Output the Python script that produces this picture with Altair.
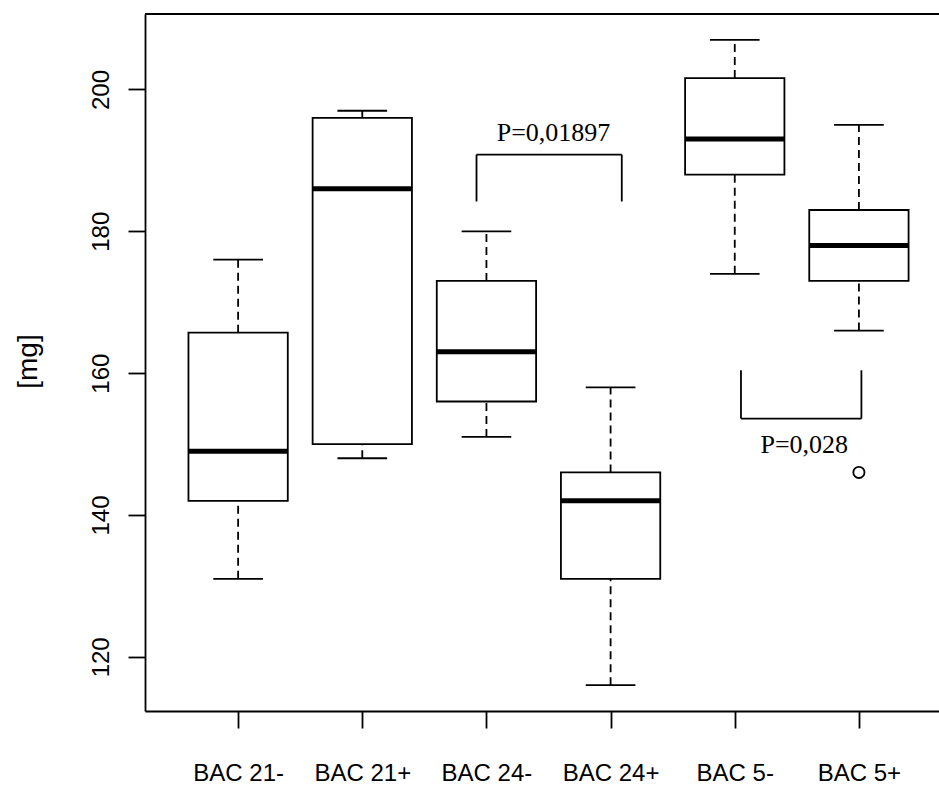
import altair as alt
import pandas as pd

# five-number summaries per group
groups = ["BAC 21-", "BAC 21+", "BAC 24-", "BAC 24+", "BAC 5-", "BAC 5+"]
whisker_low = [131, 148, 151, 116, 174, 166]
quart_low = [142, 150, 156, 131, 188, 173]
medians = [149, 186, 163, 142, 193, 178]
quart_high = [165.7, 196, 173, 146, 201.6, 183]
whisker_high = [176, 197, 180, 158, 207, 195]

# points beyond the whiskers
outlier_group = [6]
outlier_value = [146]

# significance brackets: x span, level of the bar, end of the legs
bracket_from = [2.92, 5.05]
bracket_to = [4.09, 6.02]
bracket_level = [190.8, 153.6]
bracket_leg = [184.2, 160.4]
p_labels = ["P=0,01897", "P=0,028"]
p_x = [3.54, 5.56]
p_y = [192.7, 148.75]

LW = 1.8
W, H = 794, 697

boxes = pd.DataFrame({
    "pos": list(range(1, len(groups) + 1)),
    "group": groups,
    "lo": whisker_low, "q1": quart_low, "med": medians,
    "q3": quart_high, "hi": whisker_high,
})
outliers = pd.DataFrame({"pos": outlier_group, "value": outlier_value})

seg_rows = []
for a, b, lvl, leg in zip(bracket_from, bracket_to, bracket_level, bracket_leg):
    seg_rows.append({"xa": a, "xb": a, "ya": leg, "yb": lvl})
    seg_rows.append({"xa": a, "xb": b, "ya": lvl, "yb": lvl})
    seg_rows.append({"xa": b, "xb": b, "ya": lvl, "yb": leg})
segments = pd.DataFrame(seg_rows)
ptext = pd.DataFrame({"label": p_labels, "x": p_x, "y": p_y})

xscale = alt.Scale(domain=[0.25, 6.645], nice=False, zero=False)
yscale = alt.Scale(domain=[112.36, 210.64], nice=False, zero=False)

label_expr = "[" + ",".join("'%s'" % g for g in groups) + "][datum.value - 1]"
xaxis = alt.Axis(values=list(range(1, len(groups) + 1)), labelExpr=label_expr,
                 title=None, grid=False, labelPadding=52, labelBaseline="alphabetic",
                 labelAlign="center")
yaxis = alt.Axis(values=[120, 140, 160, 180, 200], title="[mg]", grid=False,
                 labelAngle=270, labelAlign="center", labelBaseline="alphabetic",
                 labelPadding=20, titleX=-109, titleY=347, titleAngle=270,
                 titleAlign="center", titleBaseline="alphabetic",
                 titleFontSize=28)


def X(field):
    return alt.X(field, type="quantitative", scale=xscale, axis=xaxis)


def Y(field):
    return alt.Y(field, type="quantitative", scale=yscale, axis=yaxis)


base = alt.Chart(boxes).transform_calculate(
    left="datum.pos - 0.4", right="datum.pos + 0.4",
    capl="datum.pos - 0.2", capr="datum.pos + 0.2",
)

upper_whisker = base.mark_rule(strokeDash=[8, 5], stroke="black", strokeWidth=LW).encode(
    x=X("pos"), y=Y("q3"), y2="hi")
lower_whisker = base.mark_rule(strokeDash=[8, 5], stroke="black", strokeWidth=LW).encode(
    x=X("pos"), y=Y("lo"), y2="q1")
upper_cap = base.mark_rule(stroke="black", strokeWidth=LW).encode(
    x=X("capl"), x2="capr", y=Y("hi"))
lower_cap = base.mark_rule(stroke="black", strokeWidth=LW).encode(
    x=X("capl"), x2="capr", y=Y("lo"))
box = base.mark_rect(fill="white", stroke="black", strokeWidth=LW).encode(
    x=X("left"), x2="right", y=Y("q1"), y2="q3")
median = base.mark_rule(stroke="black", strokeWidth=5).encode(
    x=X("left"), x2="right", y=Y("med"))

outlier = alt.Chart(outliers).mark_point(
    shape="circle", filled=False, stroke="black", strokeWidth=1.8, size=125,
    opacity=1
).encode(x=X("pos"), y=Y("value"))

brackets = alt.Chart(segments).mark_rule(stroke="black", strokeWidth=LW).encode(
    x=X("xa"), x2="xb", y=Y("ya"), y2="yb")

pvals = alt.Chart(ptext).mark_text(
    font="Liberation Serif", fontSize=26, align="center", baseline="alphabetic",
    color="black"
).encode(x=X("x"), y=Y("y"), text="label:N")

top_line = alt.Chart(pd.DataFrame({"edge": ["top"]})).mark_rule(
    stroke="black", strokeWidth=LW
).encode(x=alt.value(0), x2=alt.value(W), y=alt.value(0))

chart = alt.layer(
    upper_whisker, lower_whisker, box, median, upper_cap, lower_cap,
    outlier, brackets, pvals, top_line
).properties(
    width=W, height=H,
    padding={"left": 145, "top": 14, "right": 0, "bottom": 76},
    autosize=alt.AutoSizeParams(type="none"),
    background="white",
).configure_view(stroke=None).configure_axis(
    domainColor="black", domainWidth=LW, tickColor="black", tickWidth=LW,
    tickSize=17, labelFont="Liberation Sans", labelFontSize=24,
    labelColor="black", titleFont="Liberation Sans", titleFontWeight="normal",
    titleColor="black", labelOverlap=False, labelBound=False, labelFlush=False,
)

chart.save("out.html", embed_options={"renderer": "svg", "actions": False})
